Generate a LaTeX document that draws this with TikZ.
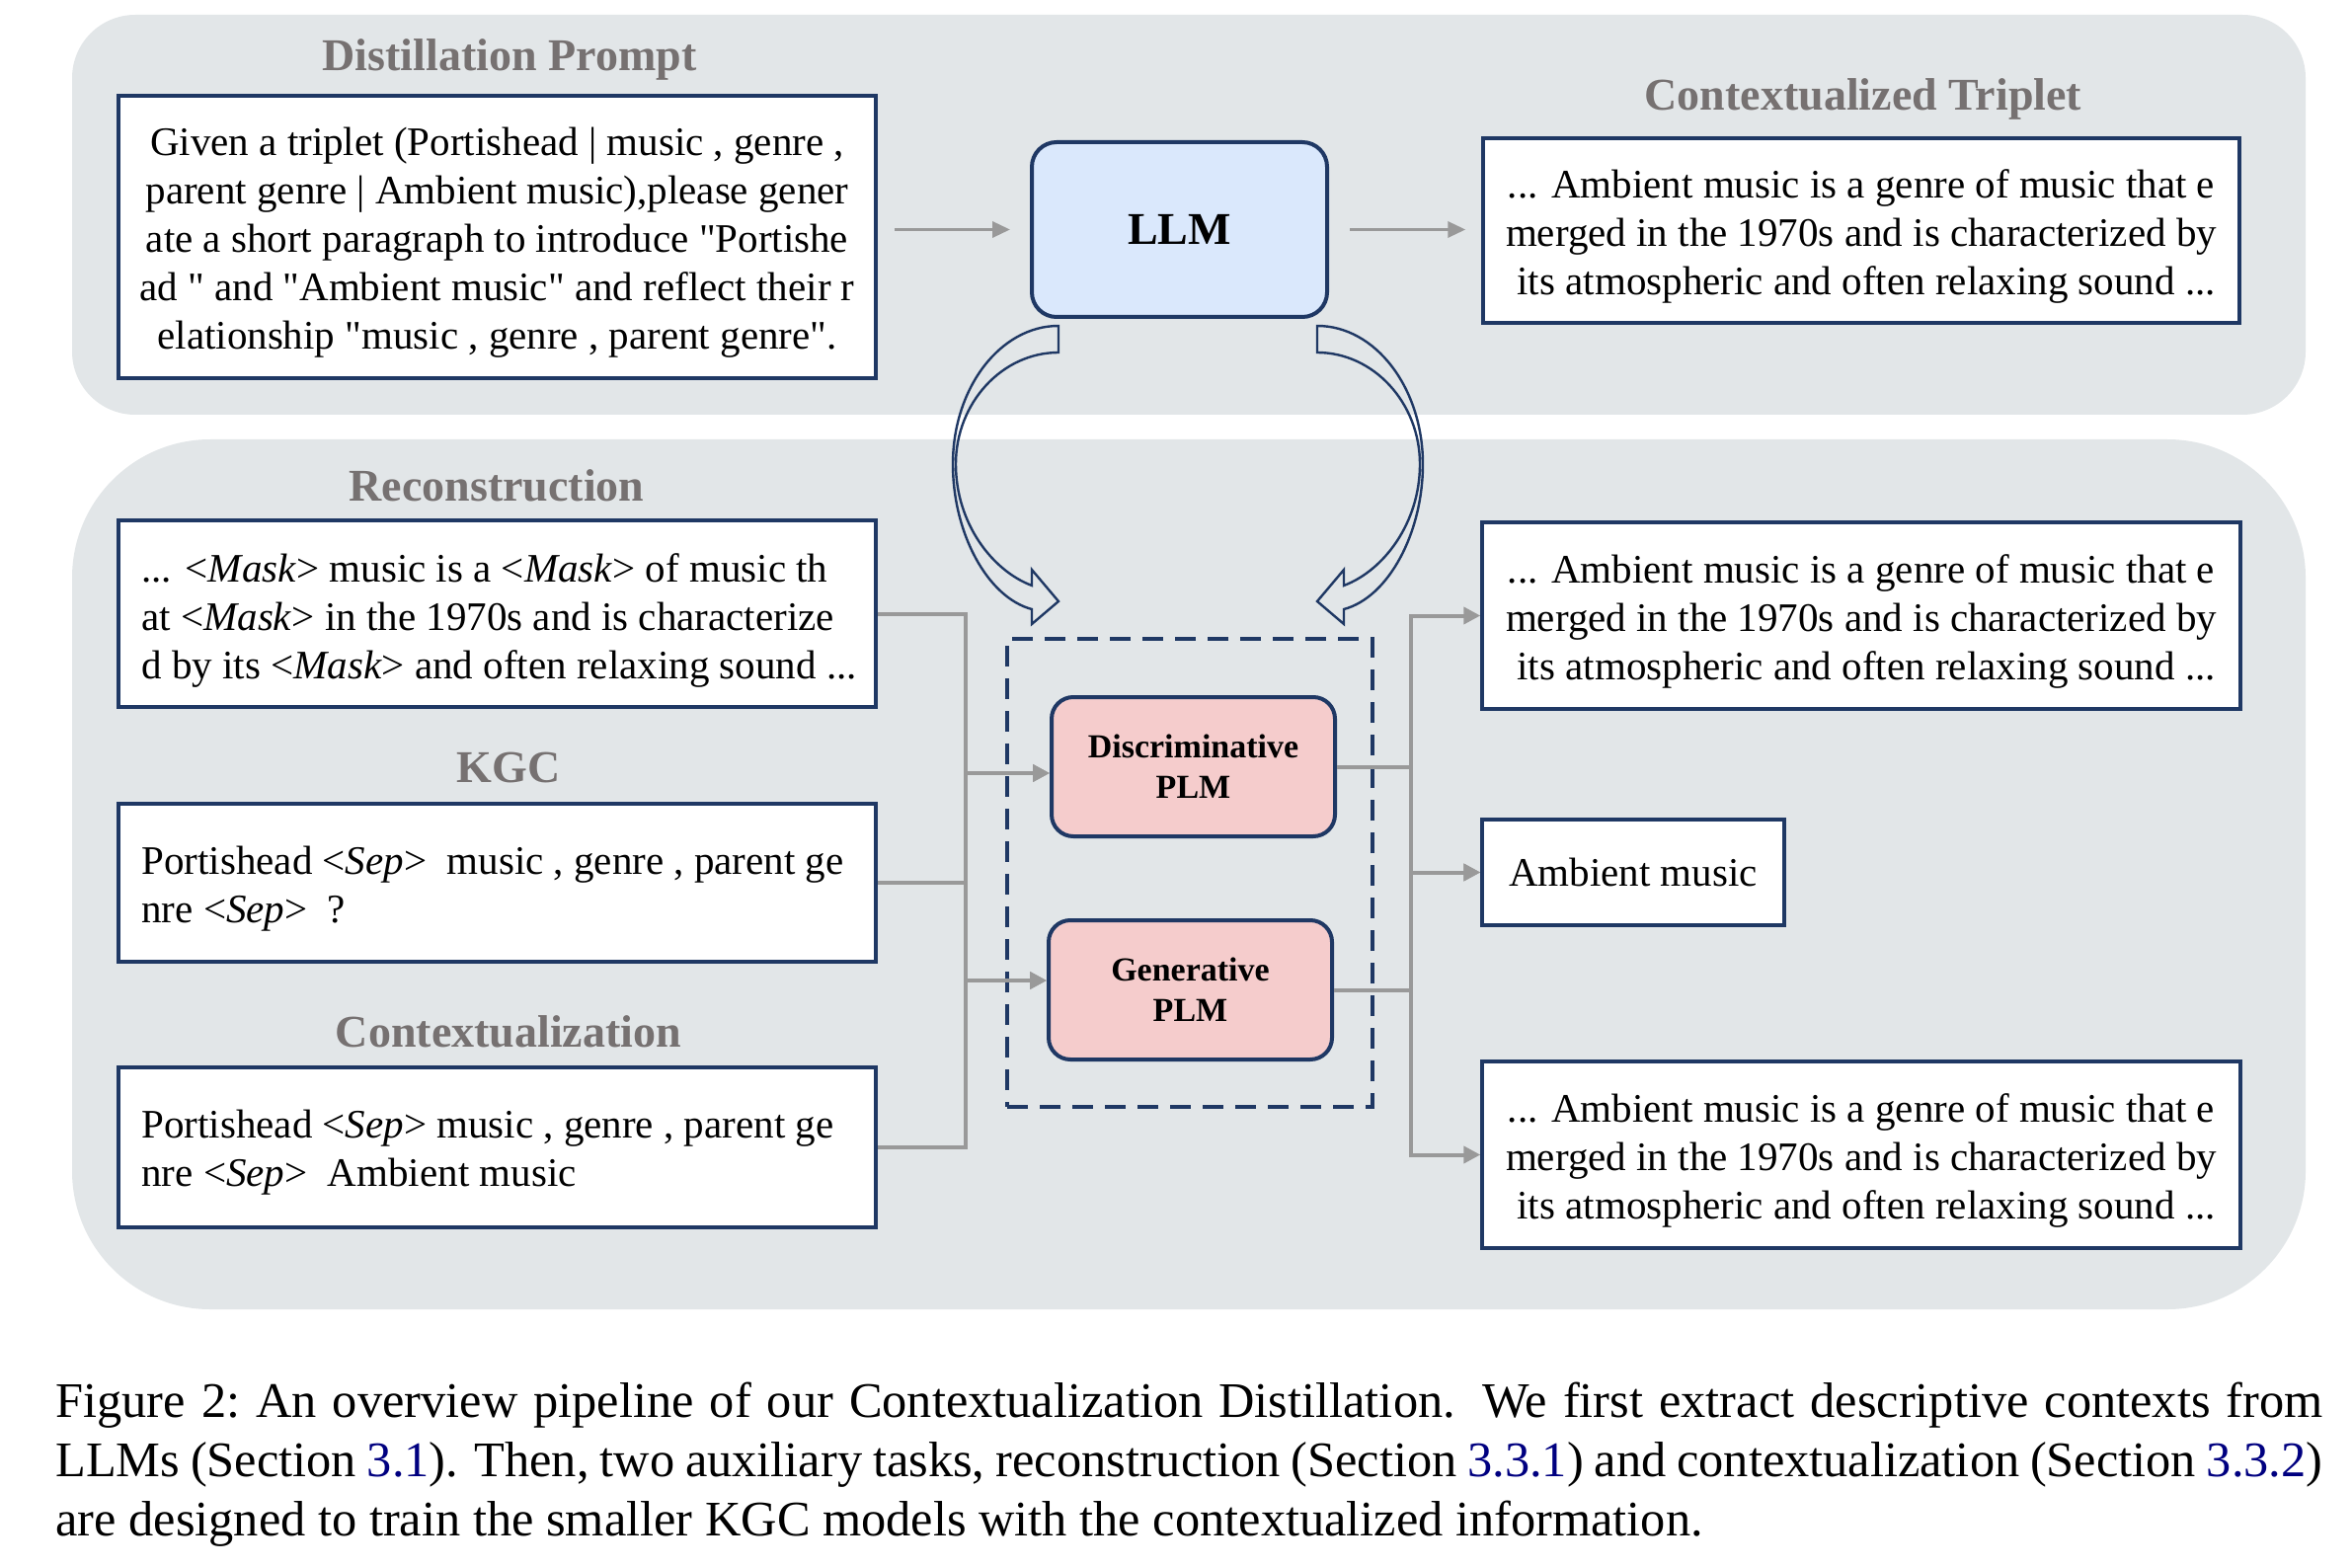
\documentclass[tikz,border=0pt]{standalone}
\usepackage{fontspec}
\setmainfont{Liberation Serif}[Ligatures=TeXOff]
\usetikzlibrary{arrows.meta}
\definecolor{panel}{HTML}{E2E6E8}
\definecolor{navy}{HTML}{1F3864}
\definecolor{llmfill}{HTML}{DAE8FC}
\definecolor{plmfill}{HTML}{F5CCCC}
\definecolor{ttl}{HTML}{767171}
\definecolor{conngray}{HTML}{999999}
\definecolor{linkblue}{rgb}{0,0,0.5}
\newcommand{\myBody}{\fontsize{20.5}{24.5}\selectfont}
\begin{document}
\begin{tikzpicture}[x=0.5pt, y=-0.5pt,
  title/.style={text=ttl, font=\fontsize{23}{27}\selectfont\bfseries, inner sep=0pt, anchor=base},
  tbox/.style={draw=navy, line width=1.75pt, fill=white, inner sep=0pt, align=center, font=\myBody},
  ctext/.style={align=center, inner sep=0pt, font=\myBody},
  ltext/.style={anchor=west, align=left, inner sep=0pt, font=\myBody},
  plm/.style={draw=navy, line width=2pt, fill=plmfill, rounded corners=11pt, inner sep=0pt, align=center,
    minimum width=143.5pt, minimum height=70.5pt, font=\fontsize{17}{20.5}\selectfont\bfseries},
  conn/.style={draw=conngray, line width=2pt, -{Triangle[length=8.5pt,width=8.5pt]}},
  topconn/.style={draw=conngray, line width=1.7pt, -{Triangle[length=9pt,width=8pt]}},
  carrow/.style={draw=navy, line width=1.2pt, fill=none, line join=miter}
]
\useasboundingbox (0,0) rectangle (2382,1588);

% panels
\fill[panel, rounded corners=32pt] (73,15) rectangle (2335,420);
\fill[panel, rounded corners=70pt] (73,445) rectangle (2335,1326);

% titles
\node[title] (t1) at (516,72) {Distillation Prompt};
\node[title] (t2) at (1887,112) {Contextualized Triplet};
\node[title] (t3) at (503,508) {Reconstruction};
\node[title] (t4) at (515,792) {KGC};
\node[title] (t5) at (515,1060) {Contextualization};

% top row
\node[tbox, minimum width=383.5pt, minimum height=143pt] (prompt) at (503.5,240) {};
\node[ctext] (prompttxt) at ([yshift=-3pt]prompt.center)
  {Given a triplet (Portishead | music , genre ,\\
   parent genre | Ambient music),please gener\\
   ate a short paragraph to introduce "Portishe\\
   ad " and "Ambient music" and reflect their r\\
   elationship "music , genre , parent genre".};
\node[draw=navy, line width=2pt, fill=llmfill, rounded corners=12.5pt, minimum width=149.5pt,
  minimum height=88.5pt, inner sep=0pt, font=\fontsize{23}{27}\selectfont\bfseries] (llm) at (1194.5,232.5) {LLM};
\node[tbox, minimum width=383pt, minimum height=93.5pt] (trip) at (1885,233.5) {};
\node[ctext] (triptxt) at ([yshift=-3pt]trip.center)
  {... Ambient music is a genre of music that e\\
   merged in the 1970s and is characterized by\\
   \ its atmospheric and often relaxing sound ...};

\draw[topconn, shorten <=8.5pt, shorten >=10pt] (llm.west -| prompt.east) -- (llm.west);
\draw[topconn, shorten <=10.5pt, shorten >=8pt] (llm.east) -- (llm.east -| trip.west);

% left input boxes
\node[tbox, minimum width=383.5pt, minimum height=94.5pt] (recon) at (503.5,621.5) {};
\node[ltext] (recontxt) at (143,628)
  {... <\textit{Mask}> music is a <\textit{Mask}> of music th\\
   at <\textit{Mask}> in the 1970s and is characterize\\
   d by its <\textit{Mask}> and often relaxing sound ...};
\node[tbox, minimum width=383.5pt, minimum height=80pt] (kgc) at (503.5,894) {};
\node[ltext] (kgctxt) at (143,900)
  {Portishead <\textit{Sep}>\ \ music , genre , parent ge\\
   nre <\textit{Sep}>\ \ ?};
\node[tbox, minimum width=383.5pt, minimum height=81pt] (ctx) at (503.5,1162) {};
\node[ltext] (ctxtxt) at (143,1167)
  {Portishead <\textit{Sep}> music , genre , parent ge\\
   nre <\textit{Sep}>\ \ Ambient music};

% PLM group
\node[draw=navy, line width=2pt, dash pattern=on 10.5pt off 6pt, minimum width=185pt,
  minimum height=237pt, inner sep=0pt] (grp) at (1205,884) {};
\node[plm] (disc) at (1208.5,776.5) {Discriminative\\PLM};
\node[plm] (gen) at (1205.5,1002.5) {Generative\\PLM};

% right output boxes
\node[tbox, minimum width=384pt, minimum height=94.5pt] (r1) at (1885,623.5) {};
\node[ctext] (r1txt) at ([yshift=-3pt]r1.center)
  {... Ambient music is a genre of music that e\\
   merged in the 1970s and is characterized by\\
   \ its atmospheric and often relaxing sound ...};
\node[tbox, minimum width=153pt, minimum height=53.5pt] (r2) at (1654,883.5) {Ambient music};
\node[tbox, minimum width=384pt, minimum height=94.5pt] (r3) at (1885,1169.5) {};
\node[ctext] (r3txt) at ([yshift=-3pt]r3.center)
  {... Ambient music is a genre of music that e\\
   merged in the 1970s and is characterized by\\
   \ its atmospheric and often relaxing sound ...};

% left connectors
\draw[conn] (recon.east) -- ++(89,0) |- ([yshift=-3.25pt]disc.west);
\draw[conn] (kgc.east) -- ++(89,0) |- ([yshift=-3.25pt]disc.west);
\draw[conn] (kgc.east) -- ++(89,0) |- ([yshift=4.75pt]gen.west);
\draw[conn] (ctx.east) -- ++(89,0) |- ([yshift=4.75pt]gen.west);

% right connectors
\draw[conn] (disc.east) -- ++(75,0) |- (r1.west);
\draw[conn] (disc.east) -- ++(75,0) |- (r2.west);
\draw[conn] (gen.east) -- ++(78,0) |- (r2.west);
\draw[conn] (gen.east) -- ++(78,0) |- (r3.west);

% curved block arrows
\draw[carrow] (1072,330) -- (1072,357)
  .. controls (1015,357) and (968,408) .. (968,470)
  .. controls (968,530) and (1005,578) .. (1045,593)
  -- (1045,577) -- (1072,609) -- (1045,632) -- (1045,617)
  .. controls (1000,605) and (965,540) .. (965,470)
  .. controls (965,393) and (1013,330) .. (1072,330) -- cycle;
\draw[carrow] (1334,330) -- (1334,357)
  .. controls (1391,357) and (1438,408) .. (1438,470)
  .. controls (1438,530) and (1401,578) .. (1361,593)
  -- (1361,577) -- (1334,609) -- (1361,632) -- (1361,617)
  .. controls (1406,605) and (1441,540) .. (1441,470)
  .. controls (1441,393) and (1393,330) .. (1334,330) -- cycle;

% caption
\node[anchor=north west, inner sep=0pt, text width=1148pt, align=justify,
  font=\fontsize{25.2}{30}\selectfont] (caption) at (56,1400)
  {Figure 2:\ An overview pipeline of our Contextualization Distillation. We first extract descriptive contexts from\linebreak
   LLMs (Section \textcolor{linkblue}{3.1}). Then, two auxiliary tasks, reconstruction (Section \textcolor{linkblue}{3.3.1}) and contextualization (Section \textcolor{linkblue}{3.3.2})\linebreak
   are designed to train the smaller KGC models with the contextualized information.};
\end{tikzpicture}
\end{document}
